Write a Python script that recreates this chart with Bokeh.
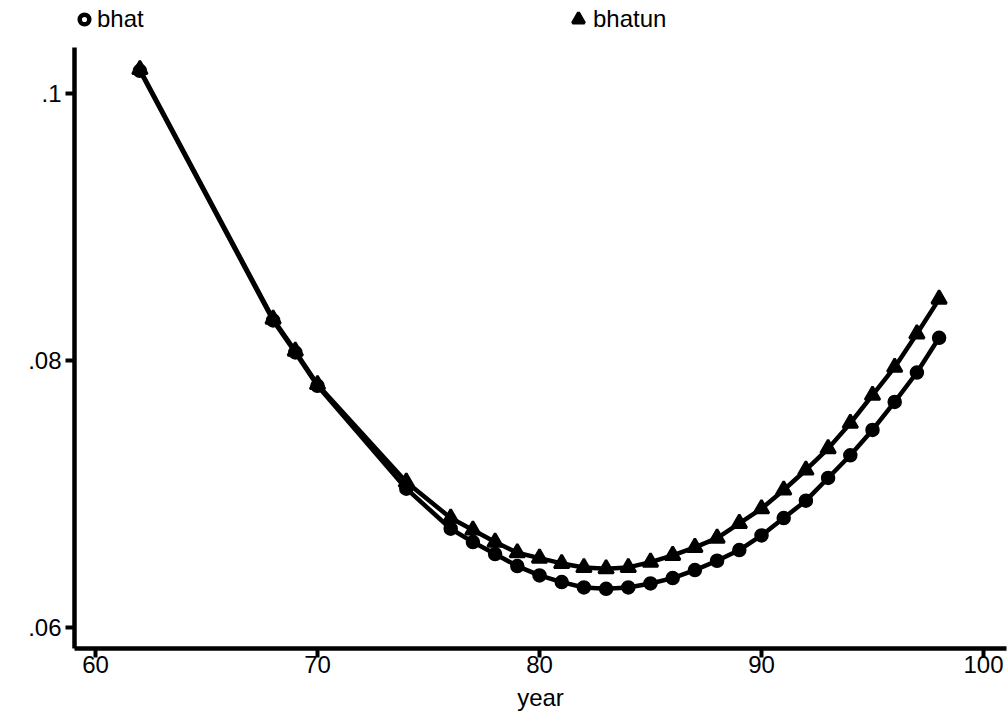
from bokeh.plotting import figure
from bokeh.models import Range1d, FixedTicker, Legend, LegendItem
from bokeh.embed import file_html
from bokeh.resources import INLINE

years = [62, 68, 69, 70, 74, 76, 77, 78, 79, 80, 81, 82, 83, 84, 85, 86, 87,
         88, 89, 90, 91, 92, 93, 94, 95, 96, 97, 98]
bhat = [0.1017, 0.0830, 0.0806, 0.0781, 0.0704, 0.0674, 0.0664, 0.0655,
        0.0646, 0.0639, 0.0634, 0.0630, 0.0629, 0.0630, 0.0633, 0.0637,
        0.0643, 0.0650, 0.0658, 0.0669, 0.0682, 0.0695, 0.0712, 0.0729,
        0.0748, 0.0769, 0.0791, 0.0817]
bhatun = [0.1018, 0.0831, 0.0807, 0.0782, 0.0709, 0.0682, 0.0673, 0.0664,
          0.0656, 0.0652, 0.0648, 0.0645, 0.0644, 0.0645, 0.0649, 0.0654,
          0.0660, 0.0667, 0.0678, 0.0689, 0.0703, 0.0718, 0.0734, 0.0753,
          0.0774, 0.0795, 0.0820, 0.0846]
xticks = [60, 70, 80, 90, 100]
yticks = [0.06, 0.08, 0.1]
ylabels = {0.06: ".06", 0.08: ".08", 0.1: ".1"}

FONT = "Liberation Sans"
Y_LO, Y_AX_HI, Y_HI = 0.058427, 0.103446, 0.106966

p = figure(width=1008, height=713, output_backend="svg", toolbar_location=None,
           x_range=Range1d(59.054, 101.036), y_range=Range1d(Y_LO, Y_HI),
           min_border_left=74, min_border_right=2, min_border_top=0,
           min_border_bottom=65)
p.outline_line_color = None
p.grid.visible = False
p.background_fill_color = "white"
p.border_fill_color = "white"

# legend swatch styles (hidden underneath the plotted markers)
leg_c = p.scatter(years, bhat, marker="circle", size=5, fill_color="white",
                  line_color="black", line_width=4.5)
leg_t = p.scatter(years, bhatun, marker="triangle", size=8, fill_color="black",
                  line_color="black", line_width=3)

p.line(years, bhatun, line_color="black", line_width=4.5)
p.scatter(years, bhatun, marker="triangle", size=15, fill_color="black",
          line_color="black", line_width=2.5)
p.line(years, bhat, line_color="black", line_width=4.5)
p.scatter(years, bhat, marker="circle", size=13, fill_color="black",
          line_color="black", line_width=1.5)

for ax in (p.xaxis[0], p.yaxis[0]):
    ax.axis_line_width = 4.5
    ax.major_tick_line_width = 4
    ax.major_tick_in = 0
    ax.minor_tick_line_color = None
    ax.major_label_text_font = FONT
    ax.major_label_text_font_size = "24px"
    ax.major_label_text_color = "black"
    ax.axis_line_color = "black"
    ax.major_tick_line_color = "black"

p.xaxis[0].ticker = FixedTicker(ticks=xticks)
p.xaxis[0].major_tick_out = 9
p.xaxis[0].major_label_standoff = -2
p.xaxis[0].axis_label = "year"
p.xaxis[0].axis_label_text_font = FONT
p.xaxis[0].axis_label_text_font_size = "24px"
p.xaxis[0].axis_label_text_font_style = "normal"
p.xaxis[0].axis_label_text_color = "black"
p.xaxis[0].axis_label_standoff = 8

p.yaxis[0].ticker = FixedTicker(ticks=yticks)
p.yaxis[0].major_label_overrides = ylabels
p.yaxis[0].major_tick_out = 9
p.yaxis[0].major_label_standoff = 4
p.yaxis[0].bounds = (Y_LO, Y_AX_HI)

for rend, label, vx, vy, g, st in ((leg_c, "bhat", -2, 615, 24, 1),
                                   (leg_t, "bhatun", 489, 614, 30, -2)):
    lg = Legend(items=[LegendItem(label=label, renderers=[rend])],
                location=(vx, vy), orientation="horizontal",
                glyph_width=g, glyph_height=g, label_standoff=st,
                padding=0, margin=0, border_line_color=None,
                background_fill_alpha=0, label_text_font=FONT,
                label_text_font_size="24px", label_text_color="black")
    p.add_layout(lg, "center")

open("out.html", "w").write(file_html(p, INLINE))
